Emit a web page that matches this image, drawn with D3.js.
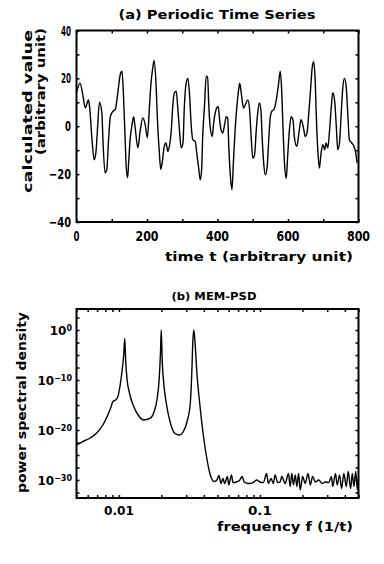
<!DOCTYPE html>
<html>
<head>
<meta charset="utf-8">
<script src="https://cdn.jsdelivr.net/npm/d3@7"></script>
<style>
  body { margin: 0; background: #fff; }
  svg text { font-family: "DejaVu Sans", sans-serif; font-weight: bold; fill: #000; }
</style>
</head>
<body>
<svg width="384" height="564"></svg>
<script>
// (a) periodic time series
var tVals = [1, 10, 18, 25, 34, 37, 44, 50, 55, 60, 65, 72, 75, 81, 86, 91, 96, 103, 110, 116,
  124, 129, 133, 138, 141, 145, 148, 152, 157, 162, 166, 174, 181, 188, 195, 201, 207, 211, 217, 220,
  225, 230, 235, 239, 243, 249, 254, 259, 264, 269, 273, 278, 283, 287, 292, 297, 302, 306, 311, 316,
  321, 325, 330, 337, 341, 347, 351, 355, 358, 363, 368, 372, 375, 379, 385, 389, 396, 402, 406, 410,
  415, 420, 425, 429, 432, 436, 441, 445, 450, 455, 460, 463, 468, 474, 479, 486, 491, 496, 500, 505,
  510, 514, 519, 523, 527, 531, 536, 541, 546, 550, 554, 560, 566, 573, 578, 582, 586, 590, 595, 599,
  604, 609, 614, 618, 625, 631, 637, 643, 649, 654, 659, 664, 669, 673, 677, 681, 685, 689, 694, 699,
  704, 708, 713, 718, 723, 727, 732, 737, 741, 746, 751, 755, 760, 765, 770, 774, 781, 787, 792, 796];
var vVals = [14.6, 18, 13, 7.7, 11, 8.3, -5.6, -14, -11, 0, 10, 5.6, -5.6, -19.5, -18, -5.6, 4, 6.2, 7, 12.5,
  21.5, 23, 14, -5.6, -16.8, -21.5, -15, -5.6, 0, 4, 0, -9, -1.5, 3.5, 0.6, -4.8, 8.3, 17.4, 25, 27.5,
  19.5, 1.5, -11, -18, -15.3, -8.4, -7, -10.5, -8, -1.5, 8.3, 14, 14.6, 8.3, -1.5, -9, -7, 8.3, 18, 20,
  12.5, 1.3, -5.6, -6.4, -11, -18, -22.4, -18, -4.3, 8.3, 20.8, 20.8, 9.7, 0, -4.3, 1.3, 7, 8.3, 2.7, -1.5,
  -2.8, 0.6, 4, 3.4, -8.4, -19.6, -26.5, -15.4, -1.5, 8.3, 15.3, 18, 13.2, 7.6, 9, 11, 7, -5.6, -13.3, -12,
  -1.5, 5.5, 9.7, 7, -5.6, -15.4, -20.3, -16.8, -4, 4, 6.2, 7, 10.4, 17.4, 23, 15.3, -1.5, -15.4, -21.7, -12.6,
  -1.5, 4, 2.7, -4.3, -8.4, -2.8, 2.7, 0, -4.3, -2.8, 5.5, 15.3, 25, 27, 19.5, 1.3, -11, -17.5, -11, -7.7,
  -9.8, -7, -9.1, -1.5, 8.3, 14, 11, 0, -9.8, -7, 5.5, 15.3, 20, 16.7, 4, -5.6, -7, -8.4, -11, -15.4];
var tTicks = [0, 200, 400, 600, 800];
var vTicks = [-40, -20, 0, 20, 40];

// (b) MEM power spectral density
var fVals = [0.005, 0.00553, 0.00618, 0.00689, 0.00769, 0.00834, 0.00881, 0.00906, 0.00947, 0.00984,
  0.0102, 0.01057, 0.01081, 0.01099, 0.01117, 0.0114, 0.0119, 0.0126, 0.01368, 0.015,
  0.01656, 0.01778, 0.01867, 0.0193, 0.01972, 0.01995, 0.02028, 0.02084, 0.02178, 0.02301,
  0.025, 0.02683, 0.02864, 0.03062, 0.03199, 0.03289, 0.03342, 0.03396, 0.03475, 0.03565,
  0.03728, 0.03936, 0.0416, 0.04446, 0.04743, 0.04955, 0.05117, 0.05297, 0.0547, 0.0562,
  0.0588, 0.0601, 0.0628, 0.0645, 0.0682, 0.072, 0.0748, 0.0773, 0.0825, 0.0895,
  0.0946, 0.1, 0.1056, 0.1116, 0.1146, 0.1199, 0.1245, 0.128, 0.1337, 0.139,
  0.1429, 0.1509, 0.1593, 0.1638, 0.1683, 0.1728, 0.1778, 0.1828, 0.1878, 0.1931,
  0.2006, 0.2096, 0.2191, 0.2277, 0.2364, 0.2472, 0.2609, 0.2758, 0.2912, 0.3075,
  0.3213, 0.3282, 0.3434, 0.353, 0.3668, 0.3793, 0.3938, 0.4093, 0.4227, 0.4394,
  0.4519, 0.4638, 0.4775, 0.4909, 0.5];
var pVals = [1e-23, 5e-23, 2e-22, 2e-21, 1e-19, 1e-17, 5e-16, 5e-15, 1e-14, 5e-14,
  1e-11, 2e-8, 1e-5, 2e-2, 5e-7, 2e-10, 2e-13, 1e-15, 1e-17, 1e-18,
  2e-18, 5e-17, 2e-14, 2e-10, 5e-5, 1, 5e-7, 1e-11, 1e-15, 5e-19,
  2e-21, 1e-21, 5e-21, 1e-18, 1e-15, 5e-9, 5e-3, 1, 1e-3, 5e-9,
  5e-15, 5e-21, 1e-25, 1e-29, 5e-31, 1e-30, 8e-30, 2e-31, 2e-30, 2e-31,
  5e-30, 1e-31, 1e-29, 3e-31, 4e-31, 1e-30, 5e-30, 4e-31, 2e-31, 3e-31,
  1e-30, 4e-31, 3e-31, 2e-29, 2e-31, 2e-30, 2e-31, 1e-29, 3e-31, 4e-31,
  5e-30, 2e-31, 2e-29, 5e-32, 2e-29, 1e-31, 1e-29, 5e-32, 2e-29, 1e-32,
  5e-30, 2e-31, 2e-29, 1e-31, 5e-30, 4e-31, 1e-30, 2e-31, 4e-31, 3e-31,
  5e-30, 5e-32, 2e-29, 1e-31, 1e-29, 2e-32, 2e-29, 5e-32, 5e-29, 2e-32,
  2e-29, 5e-32, 5e-29, 1e-32, 5e-30];
var fTicks = [0.01, 0.1];
var fTickLabels = ["0.01", "0.1"];
var pTickExps = [0, -10, -20, -30];

var svg = d3.select("svg");

var boxA = {left: 76.5, right: 358.5, top: 30.5, bottom: 222};
var boxB = {left: 76.5, right: 358.5, top: 309, bottom: 498};

var x1 = d3.scaleLinear().domain([0, 800]).range([boxA.left, boxA.right]);
var y1 = d3.scaleLinear().domain([-40, 40]).range([boxA.bottom, boxA.top]);
var x2 = d3.scaleLog().domain([0.005, 0.5]).range([boxB.left, boxB.right]);
var y2 = d3.scaleLog().domain([2.5e-34, 1.6e4]).range([boxB.bottom, boxB.top]);

// condensed bold text: squeeze to a measured length
function label(x, y, s, size, len, anchor, rot) {
  var x0 = anchor === "middle" ? -len / 2 : anchor === "end" ? -len : 0;
  var t = svg.append("text")
    .attr("transform", "translate(" + x + "," + y + ")" + (rot ? " rotate(" + rot + ")" : ""))
    .attr("x", x0)
    .attr("font-size", size)
    .text(s);
  if (len) t.attr("textLength", len).attr("lengthAdjust", "spacingAndGlyphs");
  return t;
}

function frame(b) {
  svg.append("rect")
    .attr("x", b.left).attr("y", b.top)
    .attr("width", b.right - b.left).attr("height", b.bottom - b.top)
    .attr("fill", "none").attr("stroke", "#000").attr("stroke-width", 2);
}

function ticks(axis, tr) {
  var g = svg.append("g").attr("transform", tr).call(axis);
  g.select(".domain").remove();
  g.selectAll(".tick line").attr("stroke", "#000").attr("stroke-width", 1.5);
  g.selectAll(".tick text").remove();
}

// ---------- panel (a)
var tMinor = d3.range(0, 801, 100), vMinor = d3.range(-40, 41, 10);
ticks(d3.axisBottom(x1).tickValues(tMinor).tickSize(-3), "translate(0," + boxA.bottom + ")");
ticks(d3.axisTop(x1).tickValues(tMinor).tickSize(-3), "translate(0," + boxA.top + ")");
ticks(d3.axisLeft(y1).tickValues(vMinor).tickSize(-3), "translate(" + boxA.left + ",0)");
ticks(d3.axisRight(y1).tickValues(vMinor).tickSize(-3), "translate(" + boxA.right + ",0)");

svg.append("path")
  .datum(d3.zip(tVals, vVals))
  .attr("fill", "none").attr("stroke", "#000").attr("stroke-width", 1.4)
  .attr("stroke-linejoin", "round")
  .attr("d", d3.line().curve(d3.curveMonotoneX)
    .x(function(d) { return x1(d[0]); }).y(function(d) { return y1(d[1]); }));

frame(boxA);

label(217, 19, "(a) Periodic Time Series", 12, 197, "middle");
tTicks.forEach(function(t) {
  var s = String(t);
  label(x1(t), 241, s, 14, s.length === 1 ? 6 : 23, "middle");
});
vTicks.forEach(function(v) {
  var s = v < 0 ? "\u2212" + Math.abs(v) : String(v);
  var len = v === 0 ? 6 : v < 0 ? 22 : 10;
  label(71, y1(v) + 5, s, 14, len, "end");
});
label(259, 261, "time t (arbitrary unit)", 13, 188, "middle");
label(32, 193, "calculated value", 12, 163, "start", -90);
label(45, 155, "(arbitrary unit)", 12, 127, "start", -90);

// ---------- panel (b)
var pMinor = d3.range(-32.5, 3, 2.5).map(function(e) { return Math.pow(10, e); });
ticks(d3.axisBottom(x2).ticks(10).tickSize(-3), "translate(0," + boxB.bottom + ")");
ticks(d3.axisTop(x2).ticks(10).tickSize(-3), "translate(0," + boxB.top + ")");
ticks(d3.axisLeft(y2).tickValues(pMinor).tickSize(-3), "translate(" + boxB.left + ",0)");
ticks(d3.axisRight(y2).tickValues(pMinor).tickSize(-3), "translate(" + boxB.right + ",0)");

svg.append("path")
  .datum(d3.zip(fVals, pVals))
  .attr("fill", "none").attr("stroke", "#000").attr("stroke-width", 1.4)
  .attr("stroke-linejoin", "round")
  .attr("d", d3.line().curve(d3.curveMonotoneX)
    .x(function(d) { return x2(d[0]); }).y(function(d) { return y2(d[1]); }));

frame(boxB);

label(214, 300, "(b) MEM-PSD", 11, 85, "middle");
fTicks.forEach(function(f, i) {
  label(x2(f), 515, fTickLabels[i], 13, fTickLabels[i].length === 4 ? 30 : 24, "middle");
});
pTickExps.forEach(function(e) {
  var y = y2(Math.pow(10, e));
  var t = svg.append("text")
    .attr("x", 72).attr("y", y + 5)
    .attr("text-anchor", "end")
    .attr("font-size", 12);
  t.append("tspan").text("10");
  t.append("tspan").attr("dy", -4).attr("font-size", 8)
    .text(e === 0 ? "0" : "\u2212" + Math.abs(e));
});
label(285, 531, "frequency f (1/t)", 13, 136, "middle");
label(26, 493, "power spectral density", 13, 181, "start", -90);
</script>
</body>
</html>
